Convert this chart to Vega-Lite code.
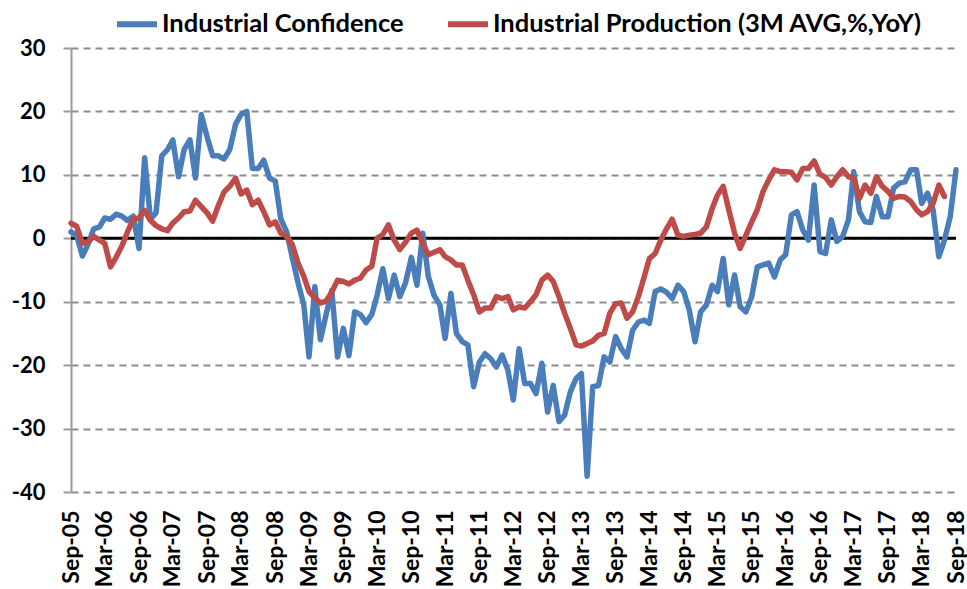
{
  "$schema": "https://vega.github.io/schema/vega-lite/v6.json",
  "autosize": {"type": "none"},
  "width": 885,
  "height": 444,
  "padding": {"left": 71, "top": 48, "right": 11, "bottom": 97},
  "background": "white",
  "config": {
    "view": {"stroke": null},
    "font": "Lato"
  },
  "layer": [
    {
      "data": {"values": [{"zero": 0}]},
      "mark": {"type": "rule", "color": "black", "strokeWidth": 3},
      "encoding": {"y": {"field": "zero", "type": "quantitative", "scale": {"domain": [-40, 30]}}}
    },
    {
      "data": {"values": [
        {"d":"2005-09-01","ic":1.0,"ip":2.4},
        {"d":"2005-10-01","ic":0.5,"ip":1.9},
        {"d":"2005-11-01","ic":-2.8,"ip":-0.8},
        {"d":"2005-12-01","ic":-1.0,"ip":-0.6},
        {"d":"2006-01-01","ic":1.5,"ip":0.3},
        {"d":"2006-02-01","ic":1.8,"ip":-0.3},
        {"d":"2006-03-01","ic":3.2,"ip":-0.8},
        {"d":"2006-04-01","ic":3.0,"ip":-4.5},
        {"d":"2006-05-01","ic":3.8,"ip":-3.0},
        {"d":"2006-06-01","ic":3.5,"ip":-1.2},
        {"d":"2006-07-01","ic":2.8,"ip":1.0},
        {"d":"2006-08-01","ic":3.5,"ip":3.0},
        {"d":"2006-09-01","ic":-1.6,"ip":3.2},
        {"d":"2006-10-01","ic":12.7,"ip":4.4},
        {"d":"2006-11-01","ic":3.0,"ip":2.8},
        {"d":"2006-12-01","ic":4.0,"ip":2.0},
        {"d":"2007-01-01","ic":13.0,"ip":1.5},
        {"d":"2007-02-01","ic":14.0,"ip":1.2},
        {"d":"2007-03-01","ic":15.5,"ip":2.4},
        {"d":"2007-04-01","ic":9.7,"ip":3.2},
        {"d":"2007-05-01","ic":14.0,"ip":4.2},
        {"d":"2007-06-01","ic":15.5,"ip":4.3},
        {"d":"2007-07-01","ic":9.5,"ip":6.0},
        {"d":"2007-08-01","ic":19.5,"ip":5.0},
        {"d":"2007-09-01","ic":16.0,"ip":4.0},
        {"d":"2007-10-01","ic":13.0,"ip":2.7},
        {"d":"2007-11-01","ic":13.0,"ip":5.2},
        {"d":"2007-12-01","ic":12.5,"ip":7.3},
        {"d":"2008-01-01","ic":14.0,"ip":8.2},
        {"d":"2008-02-01","ic":18.0,"ip":9.5},
        {"d":"2008-03-01","ic":19.5,"ip":7.0},
        {"d":"2008-04-01","ic":20.0,"ip":7.6},
        {"d":"2008-05-01","ic":11.0,"ip":5.3},
        {"d":"2008-06-01","ic":11.0,"ip":6.0},
        {"d":"2008-07-01","ic":12.3,"ip":4.2},
        {"d":"2008-08-01","ic":9.5,"ip":2.1},
        {"d":"2008-09-01","ic":9.0,"ip":2.6},
        {"d":"2008-10-01","ic":3.0,"ip":0.8},
        {"d":"2008-11-01","ic":1.0,"ip":0.3},
        {"d":"2008-12-01","ic":-3.0,"ip":-1.0},
        {"d":"2009-01-01","ic":-7.0,"ip":-3.9},
        {"d":"2009-02-01","ic":-10.5,"ip":-6.0},
        {"d":"2009-03-01","ic":-18.7,"ip":-8.4},
        {"d":"2009-04-01","ic":-7.6,"ip":-9.4},
        {"d":"2009-05-01","ic":-16.0,"ip":-10.2},
        {"d":"2009-06-01","ic":-12.0,"ip":-9.9},
        {"d":"2009-07-01","ic":-8.2,"ip":-8.5},
        {"d":"2009-08-01","ic":-18.7,"ip":-6.6},
        {"d":"2009-09-01","ic":-14.2,"ip":-6.8},
        {"d":"2009-10-01","ic":-18.5,"ip":-7.2},
        {"d":"2009-11-01","ic":-11.6,"ip":-6.6},
        {"d":"2009-12-01","ic":-12.0,"ip":-6.3},
        {"d":"2010-01-01","ic":-13.3,"ip":-5.0},
        {"d":"2010-02-01","ic":-12.0,"ip":-4.4},
        {"d":"2010-03-01","ic":-9.0,"ip":0.0},
        {"d":"2010-04-01","ic":-4.8,"ip":0.6},
        {"d":"2010-05-01","ic":-9.5,"ip":2.1},
        {"d":"2010-06-01","ic":-5.8,"ip":-0.3},
        {"d":"2010-07-01","ic":-9.2,"ip":-1.8},
        {"d":"2010-08-01","ic":-7.0,"ip":-0.6},
        {"d":"2010-09-01","ic":-3.0,"ip":0.8},
        {"d":"2010-10-01","ic":-7.4,"ip":1.3},
        {"d":"2010-11-01","ic":0.8,"ip":-0.8},
        {"d":"2010-12-01","ic":-6.0,"ip":-2.6},
        {"d":"2011-01-01","ic":-9.0,"ip":-2.2},
        {"d":"2011-02-01","ic":-10.5,"ip":-1.8},
        {"d":"2011-03-01","ic":-15.8,"ip":-2.9},
        {"d":"2011-04-01","ic":-8.7,"ip":-3.4},
        {"d":"2011-05-01","ic":-15.0,"ip":-4.2},
        {"d":"2011-06-01","ic":-16.3,"ip":-4.2},
        {"d":"2011-07-01","ic":-16.8,"ip":-6.6},
        {"d":"2011-08-01","ic":-23.4,"ip":-8.9},
        {"d":"2011-09-01","ic":-19.5,"ip":-11.6},
        {"d":"2011-10-01","ic":-18.2,"ip":-11.0},
        {"d":"2011-11-01","ic":-19.0,"ip":-11.0},
        {"d":"2011-12-01","ic":-20.3,"ip":-9.2},
        {"d":"2012-01-01","ic":-18.4,"ip":-9.5},
        {"d":"2012-02-01","ic":-20.8,"ip":-9.2},
        {"d":"2012-03-01","ic":-25.5,"ip":-11.3},
        {"d":"2012-04-01","ic":-17.4,"ip":-10.8},
        {"d":"2012-05-01","ic":-22.9,"ip":-11.0},
        {"d":"2012-06-01","ic":-22.9,"ip":-10.0},
        {"d":"2012-07-01","ic":-24.5,"ip":-8.9},
        {"d":"2012-08-01","ic":-19.7,"ip":-6.6},
        {"d":"2012-09-01","ic":-27.4,"ip":-5.8},
        {"d":"2012-10-01","ic":-23.2,"ip":-6.8},
        {"d":"2012-11-01","ic":-28.9,"ip":-9.2},
        {"d":"2012-12-01","ic":-27.9,"ip":-11.8},
        {"d":"2013-01-01","ic":-24.2,"ip":-14.2},
        {"d":"2013-02-01","ic":-22.1,"ip":-16.8},
        {"d":"2013-03-01","ic":-21.3,"ip":-17.0},
        {"d":"2013-04-01","ic":-37.5,"ip":-16.6},
        {"d":"2013-05-01","ic":-23.4,"ip":-16.2},
        {"d":"2013-06-01","ic":-23.2,"ip":-15.3},
        {"d":"2013-07-01","ic":-18.7,"ip":-15.0},
        {"d":"2013-08-01","ic":-19.5,"ip":-11.8},
        {"d":"2013-09-01","ic":-15.5,"ip":-10.3},
        {"d":"2013-10-01","ic":-17.4,"ip":-10.2},
        {"d":"2013-11-01","ic":-18.7,"ip":-12.6},
        {"d":"2013-12-01","ic":-14.5,"ip":-11.6},
        {"d":"2014-01-01","ic":-13.2,"ip":-9.2},
        {"d":"2014-02-01","ic":-12.9,"ip":-6.1},
        {"d":"2014-03-01","ic":-13.4,"ip":-3.2},
        {"d":"2014-04-01","ic":-8.4,"ip":-2.4},
        {"d":"2014-05-01","ic":-8.0,"ip":-0.3},
        {"d":"2014-06-01","ic":-8.5,"ip":1.5},
        {"d":"2014-07-01","ic":-9.5,"ip":3.0},
        {"d":"2014-08-01","ic":-7.4,"ip":0.5},
        {"d":"2014-09-01","ic":-8.4,"ip":0.3},
        {"d":"2014-10-01","ic":-11.3,"ip":0.5},
        {"d":"2014-11-01","ic":-16.3,"ip":0.6},
        {"d":"2014-12-01","ic":-11.6,"ip":0.8},
        {"d":"2015-01-01","ic":-10.5,"ip":1.8},
        {"d":"2015-02-01","ic":-7.4,"ip":4.7},
        {"d":"2015-03-01","ic":-8.4,"ip":6.8},
        {"d":"2015-04-01","ic":-3.2,"ip":8.2},
        {"d":"2015-05-01","ic":-10.5,"ip":4.5},
        {"d":"2015-06-01","ic":-5.8,"ip":0.8},
        {"d":"2015-07-01","ic":-10.8,"ip":-1.6},
        {"d":"2015-08-01","ic":-11.6,"ip":0.5},
        {"d":"2015-09-01","ic":-9.2,"ip":2.6},
        {"d":"2015-10-01","ic":-4.5,"ip":4.5},
        {"d":"2015-11-01","ic":-4.2,"ip":7.4},
        {"d":"2015-12-01","ic":-3.9,"ip":9.2},
        {"d":"2016-01-01","ic":-6.1,"ip":10.8},
        {"d":"2016-02-01","ic":-3.4,"ip":10.5},
        {"d":"2016-03-01","ic":-2.6,"ip":10.5},
        {"d":"2016-04-01","ic":3.7,"ip":10.4},
        {"d":"2016-05-01","ic":4.2,"ip":9.2},
        {"d":"2016-06-01","ic":1.3,"ip":11.0},
        {"d":"2016-07-01","ic":-0.3,"ip":11.0},
        {"d":"2016-08-01","ic":8.4,"ip":12.2},
        {"d":"2016-09-01","ic":-2.1,"ip":10.1},
        {"d":"2016-10-01","ic":-2.4,"ip":9.6},
        {"d":"2016-11-01","ic":2.9,"ip":8.4},
        {"d":"2016-12-01","ic":-0.5,"ip":9.7},
        {"d":"2017-01-01","ic":0.3,"ip":10.8},
        {"d":"2017-02-01","ic":2.9,"ip":9.7},
        {"d":"2017-03-01","ic":10.5,"ip":9.5},
        {"d":"2017-04-01","ic":4.2,"ip":6.3},
        {"d":"2017-05-01","ic":2.6,"ip":8.4},
        {"d":"2017-06-01","ic":2.5,"ip":7.1},
        {"d":"2017-07-01","ic":6.6,"ip":9.7},
        {"d":"2017-08-01","ic":3.4,"ip":8.2},
        {"d":"2017-09-01","ic":3.4,"ip":7.4},
        {"d":"2017-10-01","ic":7.9,"ip":6.3},
        {"d":"2017-11-01","ic":8.7,"ip":6.6},
        {"d":"2017-12-01","ic":8.9,"ip":6.5},
        {"d":"2018-01-01","ic":10.8,"ip":5.8},
        {"d":"2018-02-01","ic":10.8,"ip":4.5},
        {"d":"2018-03-01","ic":5.5,"ip":3.7},
        {"d":"2018-04-01","ic":7.1,"ip":4.2},
        {"d":"2018-05-01","ic":4.5,"ip":5.5},
        {"d":"2018-06-01","ic":-2.9,"ip":8.4},
        {"d":"2018-07-01","ic":-0.3,"ip":6.6},
        {"d":"2018-08-01","ic":3.4,"ip":null},
        {"d":"2018-09-01","ic":10.8,"ip":null}
      ]},
      "transform": [{"fold": ["ic", "ip"], "as": ["series", "value"]}],
      "mark": {"type": "line", "strokeWidth": 5.5, "strokeJoin": "round", "strokeCap": "round"},
      "encoding": {
        "x": {
          "field": "d", "type": "temporal",
          "scale": {"type": "utc", "nice": false, "domain": [{"year": 2005, "month": 9, "date": 1, "utc": true}, {"year": 2018, "month": 9, "date": 1, "utc": true}]},
          "axis": {
            "title": null,
            "labelExpr": "utcFormat(datum.value, '%b-%y')",
            "values": [
              {"year": 2005, "month": 9, "date": 1, "utc": true},
              {"year": 2006, "month": 3, "date": 1, "utc": true},
              {"year": 2006, "month": 9, "date": 1, "utc": true},
              {"year": 2007, "month": 3, "date": 1, "utc": true},
              {"year": 2007, "month": 9, "date": 1, "utc": true},
              {"year": 2008, "month": 3, "date": 1, "utc": true},
              {"year": 2008, "month": 9, "date": 1, "utc": true},
              {"year": 2009, "month": 3, "date": 1, "utc": true},
              {"year": 2009, "month": 9, "date": 1, "utc": true},
              {"year": 2010, "month": 3, "date": 1, "utc": true},
              {"year": 2010, "month": 9, "date": 1, "utc": true},
              {"year": 2011, "month": 3, "date": 1, "utc": true},
              {"year": 2011, "month": 9, "date": 1, "utc": true},
              {"year": 2012, "month": 3, "date": 1, "utc": true},
              {"year": 2012, "month": 9, "date": 1, "utc": true},
              {"year": 2013, "month": 3, "date": 1, "utc": true},
              {"year": 2013, "month": 9, "date": 1, "utc": true},
              {"year": 2014, "month": 3, "date": 1, "utc": true},
              {"year": 2014, "month": 9, "date": 1, "utc": true},
              {"year": 2015, "month": 3, "date": 1, "utc": true},
              {"year": 2015, "month": 9, "date": 1, "utc": true},
              {"year": 2016, "month": 3, "date": 1, "utc": true},
              {"year": 2016, "month": 9, "date": 1, "utc": true},
              {"year": 2017, "month": 3, "date": 1, "utc": true},
              {"year": 2017, "month": 9, "date": 1, "utc": true},
              {"year": 2018, "month": 3, "date": 1, "utc": true},
              {"year": 2018, "month": 9, "date": 1, "utc": true}
            ],
            "labelAngle": -90,
            "labelFont": "Lato",
            "labelFontWeight": "bold",
            "labelFontSize": 23,
            "labelColor": "black",
            "labelPadding": 18,
            "labelOverlap": false,
            "labelFlush": false,
            "domain": false,
            "ticks": false,
            "grid": false
          }
        },
        "y": {
          "field": "value", "type": "quantitative",
          "scale": {"domain": [-40, 30], "nice": false},
          "axis": {
            "title": null,
            "values": [-40, -30, -20, -10, 0, 10, 20, 30],
            "labelExpr": "'' + datum.value",
            "labelFont": "Lato",
            "labelFontWeight": "bold",
            "labelFontSize": 22,
            "labelColor": "black",
            "labelPadding": 18,
            "tickSize": 8,
            "tickWidth": 2,
            "tickColor": "#9a9a9a",
            "domainColor": "#9a9a9a",
            "domainWidth": 2,
            "grid": true,
            "gridColor": "#8c8c8c",
            "gridWidth": 2,
            "gridDash": [7, 5]
          }
        },
        "color": {
          "field": "series", "type": "nominal",
          "scale": {"domain": ["ic", "ip"], "range": ["#4A7EBB", "#BE4B48"]},
          "legend": {
            "title": null,
            "orient": "none",
            "legendX": 43,
            "legendY": -47,
            "direction": "horizontal",
            "symbolType": "stroke",
            "symbolStrokeWidth": 6,
            "symbolSize": 1600,
            "labelFont": "Lato",
            "labelFontWeight": "bold",
            "labelFontSize": 25.5,
            "labelColor": "black",
            "labelOffset": 2,
            "labelLimit": 0,
            "columnPadding": 32,
            "labelExpr": "datum.value == 'ic' ? 'Industrial Confidence' : 'Industrial Production (3M AVG,%,YoY)'"
          }
        }
      }
    }
  ]
}
